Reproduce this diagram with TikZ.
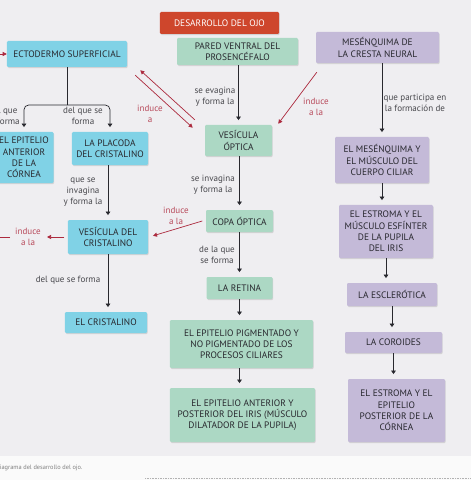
\documentclass[tikz,border=0pt]{standalone}
\usepackage{fontspec}
\setmainfont{PT Sans}
\usetikzlibrary{arrows.meta,shadows}
\definecolor{azul}{RGB}{128,210,230}
\definecolor{verde}{RGB}{172,216,196}
\definecolor{lila}{RGB}{196,186,216}
\definecolor{rojizo}{RGB}{206,70,44}
\definecolor{granate}{RGB}{172,42,62}
\definecolor{tinta}{RGB}{40,40,46}
\definecolor{fondo}{RGB}{239,238,241}
\begin{document}
\begin{tikzpicture}[x=0.03cm, y=-0.03cm, font=\fontsize{8}{9.6}\selectfont,
    caja/.style={rounded corners=1pt, inner sep=0pt, align=center, text=tinta,
      drop shadow={shadow xshift=0.6pt, shadow yshift=-0.9pt, opacity=0.25}},
    etiq/.style={font=\fontsize{7.7}{9.4}\selectfont, text=tinta!85, align=center, inner sep=0pt},
    etiqr/.style={etiq, text=granate!85},
    flecha/.style={draw=tinta, line width=0.6pt, -{Triangle[length=3pt, width=4pt]}, shorten >=4pt},
    roja/.style={draw=granate, line width=0.6pt, -{Triangle[length=3.5pt, width=3.5pt]}}]
    \useasboundingbox (0,0) rectangle (471,480);
    \clip (0,0) rectangle (471,480);
    \fill[fondo] (0,0) rectangle (471,456);
    \fill[white!96!gray] (0,456) rectangle (471,480);
    \draw[densely dotted, gray!60] (145,478) -- (471,478);
    \node[anchor=west, inner sep=0pt, font=\fontsize{5.4}{6}\selectfont, text=gray] (pie) at (-4.5,468) {Diagrama del desarrollo del ojo.};

    % cabecera
    \node[caja, fill=rojizo, text=white, minimum width=3.57cm, minimum height=0.66cm] (titulo) at (219.5,23) {DESARROLLO DEL OJO};

    % ectodermo
    \node[caja, fill=azul, minimum width=3.6cm, minimum height=0.78cm] (ecto) at (67,54) {ECTODERMO SUPERFICIAL};
    \node[caja, fill=azul, minimum width=1.77cm, minimum height=1.53cm] (epicor) at (24,157.5) {EL EPITELIO\\ANTERIOR\\DE LA\\CÓRNEA};
    \node[caja, fill=azul, minimum width=2.28cm, minimum height=0.99cm] (placoda) at (110,148.5) {LA PLACODA\\DEL CRISTALINO};
    \node[caja, fill=azul, minimum width=2.4cm, minimum height=1.02cm] (vescris) at (108,237) {VESÍCULA DEL\\CRISTALINO};
    \node[caja, fill=azul, minimum width=2.46cm, minimum height=0.63cm] (cristalino) at (106,322.5) {EL CRISTALINO};

    % prosencefalo
    \node[caja, fill=verde, minimum width=3.63cm, minimum height=0.81cm] (pared) at (237.5,51.5) {PARED VENTRAL DEL\\PROSENCÉFALO};
    \node[caja, fill=verde, minimum width=2.01cm, minimum height=0.93cm] (vesopt) at (238.5,140.5) {VESÍCULA\\ÓPTICA};
    \node[caja, fill=verde, minimum width=2.01cm, minimum height=0.66cm] (copa) at (239.5,221) {COPA ÓPTICA};
    \node[caja, fill=verde, minimum width=1.98cm, minimum height=0.66cm] (retina) at (239.5,288) {LA RETINA};
    \node[caja, fill=verde, minimum width=4.29cm, minimum height=1.44cm] (epipig) at (241.5,344) {EL EPITELIO PIGMENTADO Y\\NO PIGMENTADO DE LOS\\PROCESOS CILIARES};
    \node[caja, fill=verde, minimum width=4.35cm, minimum height=1.62cm] (epiiris) at (242.5,415) {EL EPITELIO ANTERIOR Y\\POSTERIOR DEL IRIS (MÚSCULO\\DILATADOR DE LA PUPILA)};

    % cresta neural
    \node[caja, fill=lila, minimum width=3.69cm, minimum height=0.93cm] (mesen) at (377.5,47.5) {MESÉNQUIMA DE\\LA CRESTA NEURAL};
    \node[caja, fill=lila, minimum width=2.82cm, minimum height=1.38cm] (mescil) at (382,160) {EL MESÉNQUIMA Y\\EL MÚSCULO DEL\\CUERPO CILIAR};
    \node[caja, fill=lila, minimum width=2.82cm, minimum height=1.59cm] (estroma) at (386,231.5) {EL ESTROMA Y EL\\MÚSCULO ESFÍNTER\\DE LA PUPILA\\DEL IRIS};
    \node[caja, fill=lila, minimum width=2.7cm, minimum height=0.69cm] (escle) at (392,294.5) {LA ESCLERÓTICA};
    \node[caja, fill=lila, minimum width=2.91cm, minimum height=0.63cm] (coroides) at (393.5,342.5) {LA COROIDES};
    \node[caja, fill=lila, minimum width=2.91cm, minimum height=1.89cm] (estcor) at (396.5,410.5) {EL ESTROMA Y EL\\EPITELIO\\POSTERIOR DE LA\\CÓRNEA};

    % conectores ectodermo
    \coordinate (rama) at (67,105);
    \draw[draw=tinta, line width=0.6pt] (ecto) -- (rama);
    \draw[flecha, rounded corners=4pt] (rama) -| (epicor.north);
    \draw[flecha, rounded corners=4pt] (rama) -| (placoda.north);
    \node[etiq] (l1) at (3,116) {del que\\se forma};
    \node[etiq] (l2) at (83,116) {del que se\\forma};
    \draw[flecha] (placoda.south -| vescris) -- (vescris.north);
    \node[etiq] (l3) at (83,192) {que se\\invagina\\y forma la};
    \draw[flecha] (vescris) -- (vescris |- cristalino.north);
    \node[etiq] (l4) at (68,280) {del que se forma};

    % conectores prosencefalo
    \draw[flecha] (pared.south -| vesopt) -- (vesopt.north);
    \node[etiq] (l5) at (215,97) {se evagina\\y forma la};
    \draw[flecha] (vesopt.south -| copa) -- (copa.north);
    \node[etiq] (l6) at (213,185) {se invagina\\y forma la};
    \draw[flecha] (copa) -- (copa |- retina.north);
    \node[etiq] (l7) at (217,255) {de la que\\se forma};
    \draw[flecha] (retina) -- (retina |- epipig.north);
    \draw[flecha] (epipig.south -| retina) -- (retina |- epiiris.north);

    % conectores cresta neural
    \draw[flecha] (mesen.south -| mescil) -- (mescil.north);
    \node[etiq] (l8) at (415,103) {que participa en\\la formación de};
    \draw[flecha] (mescil.south) -- (mescil.south |- estroma.north);
    \draw[flecha] (estroma.south) -- (estroma.south |- escle.north);
    \draw[flecha] (escle.south) -- (escle.south |- coroides.north);
    \draw[flecha] (coroides.south) -- (coroides.south |- estcor.north);

    % inducciones
    \draw[roja] ([shift={(-10,-5)}]vesopt.north west) -- ([shift={(13,3)}]ecto.south east);
    \draw[roja] ([shift={(8,8)}]ecto.south east) -- ([shift={(-12,3)}]vesopt.north west);
    \node[etiqr] (l9) at (150,114) {induce\\a};
    \draw[roja] ([shift={(1,9)}]mesen.south west) -- ([shift={(6,-1)}]vesopt.north east);
    \node[etiqr] (l10) at (316,107) {induce\\a la};
    \draw[roja] ([xshift=-3]copa.west) -- ([xshift=4,yshift=1]vescris.east);
    \node[etiqr] (l11) at (176,216) {induce\\a la};
    \coordinate (izq) at (-6,237);
    \coordinate (izq2) at (10,237);
    \draw[roja, shorten <=3pt] (vescris.west) -- (47,237) coordinate (punta);
    \draw[draw=granate, line width=0.6pt] (izq2) -- (izq);
    \node[etiqr] (l12) at (28,237) {induce\\a la};
    \coordinate (izq3) at (-8,54);
    \draw[roja] (izq3) -- (ecto.west);
\end{tikzpicture}
\end{document}
